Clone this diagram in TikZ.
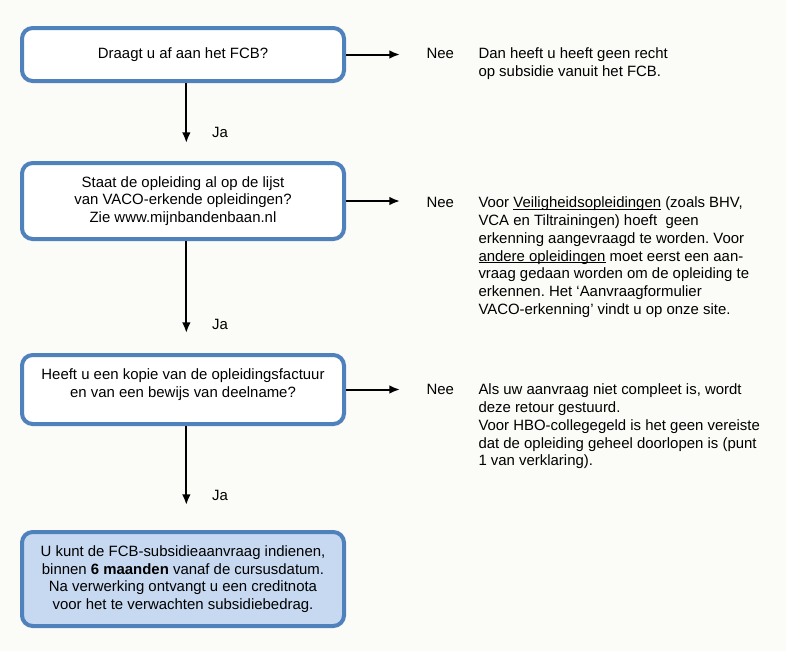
\documentclass[tikz,border=0pt]{standalone}
\usepackage{fontspec}
\setmainfont{Liberation Sans}
\usetikzlibrary{arrows.meta,positioning,calc}
\definecolor{kaderblauw}{RGB}{79,129,189}
\definecolor{vulblauw}{RGB}{198,217,241}
\definecolor{papier}{RGB}{251,251,247}
\tikzset{every picture/.style={line width=0.75pt}}
\frenchspacing
% onderstreping net onder de basislijn
\newcommand{\onderlijn}[1]{\setbox0\hbox{#1}\rlap{\rule[-1.6pt]{\wd0}{0.6pt}}\box0\relax}

\begin{document}
\begin{tikzpicture}[x=0.75pt,y=-0.75pt,
    font=\fontsize{11.2pt}{13.3pt}\selectfont,
    vraag/.style={draw=kaderblauw, line width=3pt, rounded corners=8pt, fill=white,
        align=center, inner sep=0pt, minimum width=241.5pt},
    eind/.style={vraag, fill=vulblauw},
    pijl/.style={-{Latex[length=8pt,width=6.5pt]}, line width=1.5pt},
    tekst/.style={anchor=north west, align=left, inner sep=0pt}]
    % achtergrond
    \fill[papier] (0,0) rectangle (786,651);
    \useasboundingbox (0,0) rectangle (786,651);

    % vragen (links)
    \node[vraag, minimum height=39.75pt] (q1) at (183,54.5) {Draagt u af aan het FCB?};
    \node[vraag, minimum height=57pt] (q2) at (183,201) {Staat de opleiding al op de lijst\\
        van VACO-erkende opleidingen?\\ Zie www.mijnbandenbaan.nl};
    \node[vraag, minimum height=51.75pt] (q3) at (183,389.5) {Heeft u een kopie van de opleidingsfactuur\\
        en van een bewijs van deelname?\\[-4pt]\mbox{}};
    \node[eind, minimum height=70.5pt] (q4) at (183,579) {U kunt de FCB-subsidieaanvraag indienen,\\
        binnen \textbf{6 maanden} vanaf de cursusdatum.\\
        Na verwerking ontvangt u een creditnota\\
        voor het te verwachten subsidiebedrag.};

    % antwoorden (rechts)
    \node[tekst] (nee1) at (426,47.6) {Nee};
    \node[tekst] (nee2) at (426,196.6) {Nee};
    \node[tekst] (nee3) at (426,383.6) {Nee};
    \node[tekst] (uitleg1) at (478,47.6) {Dan heeft u heeft geen recht\\
        op subsidie vanuit het FCB.};
    \node[tekst] (uitleg2) at (478,196.6) {Voor \onderlijn{Veiligheidsopleidingen} (zoals BHV,\\
        VCA en Tiltrainingen) hoeft\ \ geen\\
        erkenning aangevraagd te worden. Voor\\
        \onderlijn{andere opleidingen} moet eerst een aan-\\
        vraag gedaan worden om de opleiding te\\
        erkennen. Het ‘Aanvraagformulier\\
        VACO-erkenning’ vindt u op onze site.};
    \node[tekst] (uitleg3) at (478,383.6) {Als uw aanvraag niet compleet is, wordt\\
        deze retour gestuurd.\\
        Voor HBO-collegegeld is het geen vereiste\\
        dat de opleiding geheel doorlopen is (punt\\
        1 van verklaring).};

    % ja-takken
    \node (ja1) at (220,132.7) {Ja};
    \node (ja2) at (220,324.5) {Ja};
    \node (ja3) at (220,495) {Ja};
    \draw[pijl, shorten >=13.5pt] ([xshift=2.5pt]q1.south) -- ([xshift=2.5pt]q2.north);
    \draw[pijl, shorten >=15pt] ([xshift=2.5pt]q2.south) -- ([xshift=2.5pt]q3.north);
    \draw[pijl, shorten >=18.75pt] ([xshift=2.5pt]q3.south) -- ([xshift=2.5pt]q4.north);

    % nee-takken
    \draw[pijl, shorten >=19.5pt] (q1.east) -- (q1.east -| nee1.west);
    \draw[pijl, shorten >=19.5pt] (q2.east) -- (q2.east -| nee2.west);
    \draw[pijl, shorten >=19.5pt] (q3.east) -- (q3.east -| nee3.west);
\end{tikzpicture}
\end{document}
